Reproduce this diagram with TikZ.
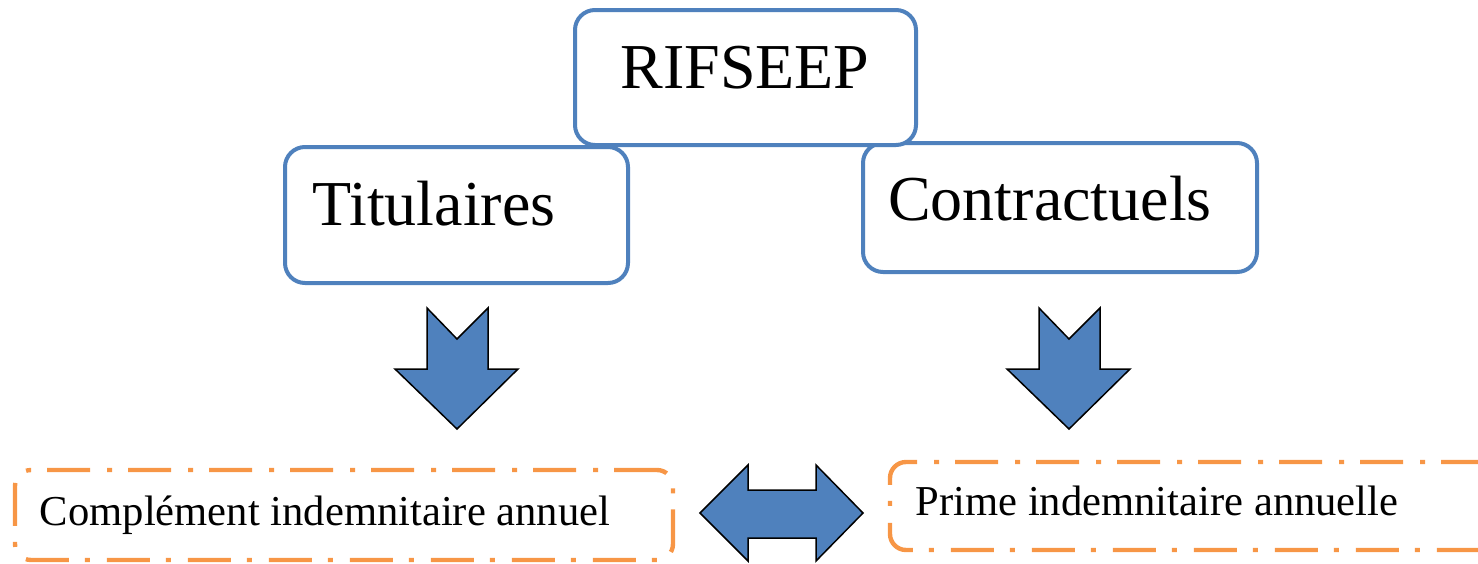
\documentclass[tikz,border=0pt]{standalone}
\usepackage{fontspec}
\setmainfont{Liberation Serif}
\definecolor{boxblue}{HTML}{4F81BD}
\definecolor{boxorange}{HTML}{F79646}
\tikzset{
  bluebox/.style={draw=boxblue, line width=2pt, rounded corners=10pt, fill=white, inner sep=0pt},
  orangebox/.style={draw=boxorange, line width=2.2pt, rounded corners=8pt,
    dash pattern=on 21.5pt off 8pt on 2.5pt off 8.5pt, inner sep=0pt},
  bigtext/.style={font=\fontsize{32}{38}\selectfont, anchor=base, inner sep=0pt},
  smalltext/.style={font=\fontsize{21.3}{26}\selectfont, anchor=base, inner sep=0pt},
  blockarrow/.style={fill=boxblue, draw=black, line width=0.75pt, line join=miter},
}
\begin{document}
\begin{tikzpicture}[x=0.5pt, y=-0.5pt]
    \useasboundingbox (0,0) rectangle (1478,563);

    % cadres du niveau 2
    \node[bluebox, minimum width=171.5pt, minimum height=68pt] (titbox) at (456.5,215) {};
    \node[bluebox, minimum width=197pt, minimum height=64.5pt] (conbox) at (1060,207.5) {};
    % cadre du haut
    \node[bluebox, minimum width=170.5pt, minimum height=67.5pt] (rifbox) at (745.5,77.5) {};

    % textes
    \node[bigtext] (rif) at (745,88) {RIFSEEP};
    \node[bigtext] (tit) at (434,225) {Titulaires};
    \node[bigtext] (con) at (1050,220) {Contractuels};

    % cadres pointillés du bas
    \node[orangebox, minimum width=329pt, minimum height=45pt] (cplbox) at (344,515) {};
    \node[orangebox, minimum width=305pt, minimum height=44pt] (pribox) at (1195,506) {};
    \node[smalltext] (cpl) at (325,525) {Complément indemnitaire annuel};
    \node[smalltext] (pri) at (1157,515) {Prime indemnitaire annuelle};

    % flèches vers le bas
    \foreach \ax in {457,1069}{
        \draw[blockarrow] (\ax-30,308) -- (\ax,339) -- (\ax+31,308) -- (\ax+31,369)
            -- (\ax+61,369) -- (\ax,429) -- (\ax-62,369) -- (\ax-30,369) -- cycle;
    }

    % flèche double
    \draw[blockarrow] (700,513) -- (748,465) -- (748,490) -- (816,490) -- (816,465)
        -- (863,513) -- (816,561) -- (816,538) -- (748,538) -- (748,561) -- cycle;
\end{tikzpicture}
\end{document}
